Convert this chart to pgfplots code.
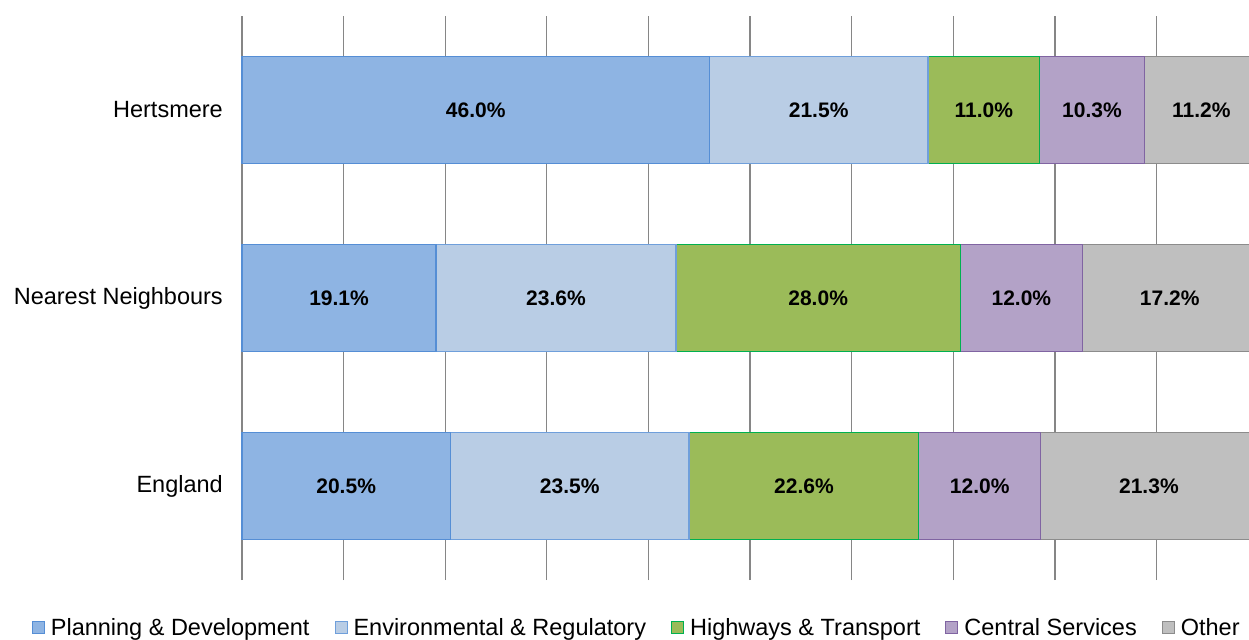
\documentclass[border=0pt]{standalone}
\usepackage{fontspec}
\setmainfont{Liberation Sans}
\usepackage{pgfplots}
\usepackage{pgfplotstable}
\pgfplotsset{compat=1.18}

\definecolor{pdfill}{HTML}{8EB4E3}
\definecolor{pdline}{HTML}{558ED5}
\definecolor{erfill}{HTML}{B9CDE5}
\definecolor{erline}{HTML}{6F9FDB}
\definecolor{htfill}{HTML}{9BBB59}
\definecolor{htline}{HTML}{00B050}
\definecolor{csfill}{HTML}{B3A2C7}
\definecolor{csline}{HTML}{8064A2}
\definecolor{otfill}{HTML}{BFBFBF}
\definecolor{otline}{HTML}{8C8C8C}
\definecolor{gridgray}{HTML}{868686}

% shares in percent, rows: England, Nearest Neighbours, Hertsmere
\pgfplotstableread{
idx pd er ht cs ot
0 20.5 23.5 22.6 12.0 21.3
1 19.1 23.6 28.0 12.0 17.2
2 46.0 21.5 11.0 10.3 11.2
}\shares

\newcommand{\lblfont}{\fontsize{23.5}{28}\selectfont}

\begin{document}
\begin{tikzpicture}
\begin{axis}[
    name=ax,
    xbar stacked, scale only axis, clip=false,
    width=1007pt, height=564pt,
    xmin=0, xmax=99.1, ymin=-0.5, ymax=2.5,
    bar width=107pt,
    xtick={0,10,...,90}, xticklabels={},
    xmajorgrids, major grid style={draw=gridgray, line width=1.3pt},
    ytick={0,1,2}, yticklabels={England,Nearest Neighbours,Hertsmere},
    axis line style={draw=none}, tick style={draw=none},
    yticklabel style={font=\lblfont, inner sep=0pt, xshift=-19pt},
    point meta=explicit,
    nodes near coords={\pgfmathprintnumber[fixed,fixed zerofill,precision=1,assume math mode=true]{\pgfplotspointmeta}\%},
    every node near coord/.append style={font=\bfseries\fontsize{21}{25}\selectfont, anchor=center},
    legend columns=-1,
    legend style={draw=none, fill=none, at={(0.391,-0.085)}, anchor=center, font=\lblfont,
        nodes={inner sep=0pt},
        /tikz/every odd column/.append style={column sep=6pt},
        /tikz/every even column/.append style={column sep=25pt}},
    legend image code/.code={\draw[#1, line width=1pt] (0pt,-6pt) rectangle (12pt,6pt);},
]
\addplot[fill=pdfill, draw=pdline, line width=1.3pt]
    table[x=pd, y=idx, meta=pd] {\shares};
\addlegendentry{Planning \& Development}
\addplot[fill=erfill, draw=erline, line width=1.3pt]
    table[x=er, y=idx, meta=er] {\shares};
\addlegendentry{Environmental \& Regulatory}
\addplot[fill=htfill, draw=htline, line width=1.3pt]
    table[x=ht, y=idx, meta=ht] {\shares};
\addlegendentry{Highways \& Transport}
\addplot[fill=csfill, draw=csline, line width=1.3pt]
    table[x=cs, y=idx, meta=cs] {\shares};
\addlegendentry{Central Services}
\addplot[fill=otfill, draw=otline, line width=1.3pt]
    table[x=ot, y=idx, meta=ot] {\shares};
\addlegendentry{Other}
\end{axis}
\pgfresetboundingbox
\path ([shift={(-242pt,-59pt)}]ax.south west) rectangle ([shift={(0pt,16pt)}]ax.north east);
\end{tikzpicture}
\end{document}
